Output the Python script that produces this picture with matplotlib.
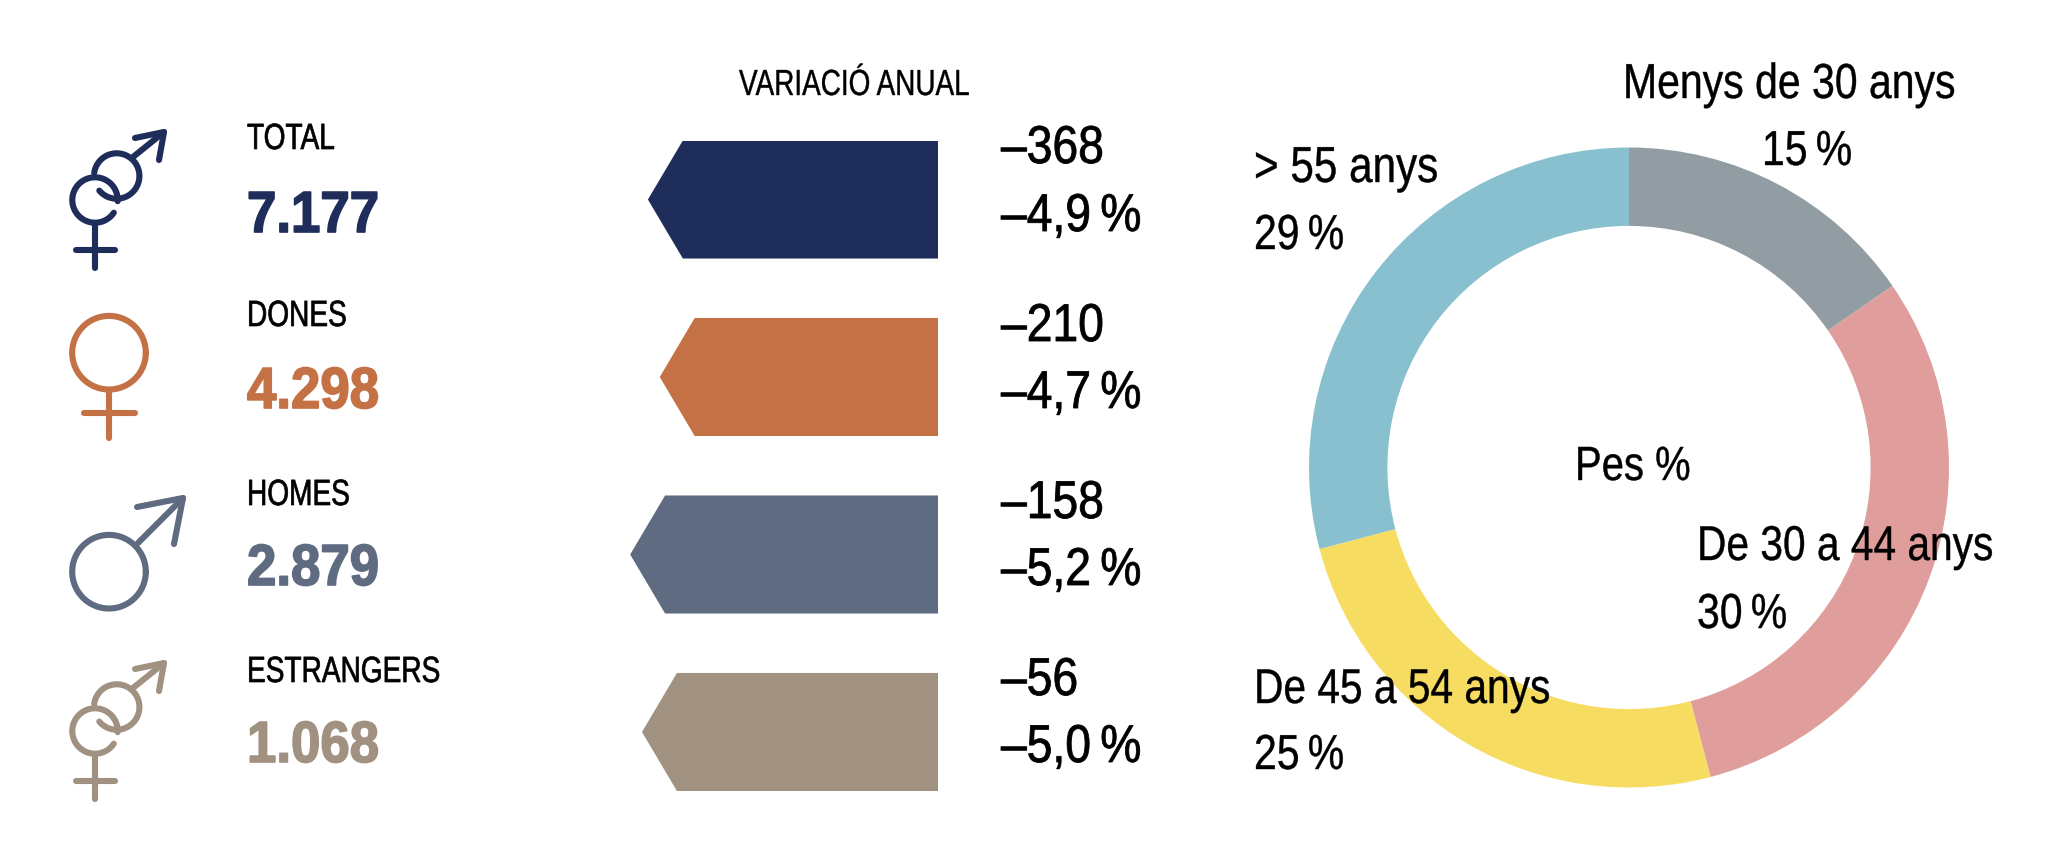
import numpy as np
import matplotlib
matplotlib.use('Agg')
import matplotlib.pyplot as plt
from matplotlib.patheffects import AbstractPathEffect
from matplotlib.transforms import Affine2D

# categories and values
categories = ['TOTAL', 'DONES', 'HOMES', 'ESTRANGERS']
totals = ['7.177', '4.298', '2.879', '1.068']
variation_abs = ['–368', '–210', '–158', '–56']
variation_pct = [4.9, 4.7, 5.2, 5.0]
variation_labels = ['–4,9\u2009%', '–4,7\u2009%', '–5,2\u2009%', '–5,0\u2009%']

age_groups = ['Menys de 30 anys', 'De 30 a 44 anys', 'De 45 a 54 anys', '> 55 anys']
age_shares = [15.4, 30.5, 25.0, 29.1]
age_labels = ['15\u2009%', '30\u2009%', '25\u2009%', '29\u2009%']

row_colors = ['#1f2d5a', '#c47145', '#5f6b80', '#a09180']
age_colors = ['#919da3', '#df9e9b', '#f7dc62', '#88c0d0']

W, H = 2067, 850
FONT = ['Liberation Sans', 'DejaVu Sans']


class Tall(AbstractPathEffect):
    # no narrow font installed: smaller text stretched up from the baseline, a bit heavier
    def __init__(self, sy, extra=0.5):
        super().__init__()
        self.sy = sy
        self.extra = extra

    def draw_path(self, renderer, gc, tpath, affine, rgbFace=None):
        gc0 = renderer.new_gc()
        gc0.copy_properties(gc)
        gc0.set_linewidth(self.extra)
        gc0.set_foreground(rgbFace)
        renderer.draw_path(gc0, tpath, Affine2D().scale(1, self.sy) + affine, rgbFace)
        gc0.restore()


def px_axes(left, top, right, bottom):
    return fig.add_axes([left / W, 1 - bottom / H, (right - left) / W, (bottom - top) / H])


fig = plt.figure(figsize=(W / 100, H / 100), dpi=100, facecolor='white')

# arrows: length is the annual variation in %
ax_bar = px_axes(612.4, 140.5, 938, 791)
bar_h = 0.665
notch = 0.59
for i, (pct, col) in enumerate(zip(variation_pct, row_colors)):
    ax_bar.fill([0, -pct + notch, -pct, -pct + notch, 0],
                [i - bar_h / 2, i - bar_h / 2, i, i + bar_h / 2, i + bar_h / 2],
                color=col, lw=0)
ax_bar.set_xlim(-5.5, 0)
ax_bar.set_ylim(3 + bar_h / 2, -bar_h / 2)
ax_bar.axis('off')

# donut
ax_pie = px_axes(1302.6, 141.1, 1955.4, 793.9)
ax_pie.pie(age_shares, colors=age_colors, startangle=90, counterclock=False,
           radius=1, wedgeprops={'width': 0.245, 'linewidth': 0})
ax_pie.set_xlim(-1.02, 1.02)
ax_pie.set_ylim(-1.02, 1.02)

# overlay in pixel coordinates for icons and text
ax = fig.add_axes([0, 0, 1, 1])
ax.set_xlim(0, W)
ax.set_ylim(H, 0)
ax.axis('off')


def stroke(xs, ys, col, lw=4.4):
    ax.plot(xs, ys, color=col, lw=lw, solid_capstyle='round', solid_joinstyle='round')


def arc(cx, cy, r, a0, a1, col, lw=4.4):
    t = np.radians(np.linspace(a0, a1, 120))
    stroke(cx + r * np.cos(t), cy - r * np.sin(t), col, lw)


def both_icon(dy, col):
    arc(95, 200 + dy, 22.7, -3, 326, col)
    arc(116.7, 176 + dy, 22.7, 220, 532, col)
    stroke([95, 95], [223 + dy, 268 + dy], col)
    stroke([76, 115], [249.5 + dy, 249.5 + dy], col)
    stroke([133, 164], [157 + dy, 132 + dy], col)
    stroke([135, 164, 159], [138 + dy, 132 + dy, 160 + dy], col)


def female_icon(col):
    arc(109, 352.7, 36.8, 0, 360, col)
    stroke([109, 109], [391, 438], col)
    stroke([84, 135], [413, 413], col)


def male_icon(col):
    arc(109, 571.7, 36.8, 0, 360, col)
    stroke([138, 183], [543, 498], col)
    stroke([137, 183, 174], [507, 498, 544], col)


both_icon(0, row_colors[0])
female_icon(row_colors[1])
male_icon(row_colors[2])
both_icon(531, row_colors[3])


def put(x, y, s, size, sy, color='black', weight='normal', extra=0.5):
    ax.text(x, y, s, family=FONT, fontsize=size, va='baseline', color=color, weight=weight,
            path_effects=[Tall(sy, extra)])


label_base = [149, 326, 505, 682]
total_base = [232, 408, 585, 762]
abs_base = [163, 341, 518, 695]
pct_base = [231, 408, 585, 762]
for i in range(4):
    put(247, label_base[i], categories[i], 20.2, 1.3)
    put(247, total_base[i], totals[i], 38.0, 1.1, row_colors[i], 'bold', 1.2)
    put(1001, abs_base[i], variation_abs[i], 33.3, 1.15, extra=0.6)
    put(1001, pct_base[i], variation_labels[i], 33.3, 1.15, extra=0.6)

put(739, 95, 'VARIACIÓ ANUAL', 20.1, 1.3, extra=0.3)

# donut labels
put(1623, 98, age_groups[0], 29.5, 1.2, extra=0.3)
put(1762, 165, age_labels[0], 29.5, 1.2, extra=0.3)
put(1697, 560, age_groups[1], 29.3, 1.2, extra=0.3)
put(1697, 628, age_labels[1], 29.5, 1.2, extra=0.3)
put(1254, 703, age_groups[2], 29.3, 1.2, extra=0.3)
put(1254, 769, age_labels[2], 29.5, 1.2, extra=0.3)
put(1254, 182, age_groups[3], 30.4, 1.2, extra=0.3)
put(1254, 249, age_labels[3], 29.5, 1.2, extra=0.3)
put(1575, 480, 'Pes %', 28.8, 1.2, extra=0.3)

fig.savefig('out.png', dpi=100)
